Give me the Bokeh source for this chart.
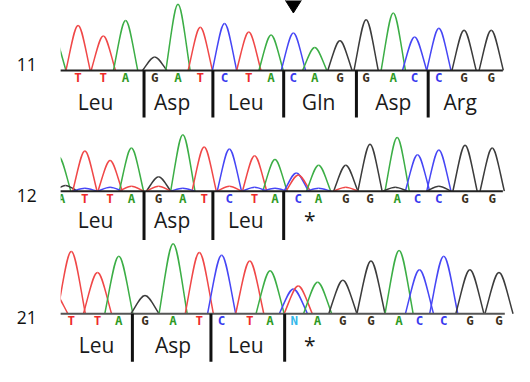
from bokeh.plotting import figure
from bokeh.models import ColumnDataSource, Range1d
from bokeh.core.properties import value
from bokeh.embed import file_html
from bokeh.resources import INLINE

# ---------------- data ----------------
row_names = ["11", "12", "21"]

# row 11: trace peaks (scan position, amplitude, channel)
peak_pos_11 = [55, 80, 106, 129, 159, 183, 206, 231, 256, 279, 302, 324, 350, 377, 405, 427, 452, 478, 506]
peak_amp_11 = [35, 47, 36, 52, 14, 69, 45, 49, 40, 37, 39, 24, 31, 53, 60, 35, 44, 42, 42]
peak_ch_11 = list("ATTAGATCTACAGGACCGG")
call_pos_11 = [80, 106, 129, 159, 183, 206, 231, 256, 279, 302, 324, 350, 377, 405, 427, 452, 478, 506]
call_11 = list("TTAGATCTACAGGACCGG")
codon_bounds_11 = [148, 219, 292, 367, 441]
aa_pos_11 = [98, 177, 253, 328, 405, 474]
aa_11 = ["Leu", "Asp", "Leu", "Gln", "Asp", "Arg"]

# row 12
peak_pos_12 = [60, 67, 87, 113, 135, 163, 188, 210, 236, 262, 283, 305, 307, 328, 356, 381, 409, 430, 452, 479, 507,
               87, 113, 135, 163, 188, 236, 262, 283, 328, 356, 407, 452]
peak_amp_12 = [36, 6, 42, 32, 45, 15, 59, 46, 44, 37, 33, 19, 17, 27, 27, 49, 56, 38, 43, 48, 45,
               3, 4, 5, 5, 3, 5, 4, 3, 3, 4, 4, 5]
peak_ch_12 = list("AGTTAGATCTACTAGGACCGG") + list("CCTTCTCCCTGG")
call_pos_12 = [63, 87, 113, 135, 163, 188, 210, 236, 262, 283, 307, 328, 356, 381, 409, 430, 452, 479, 507]
call_12 = list("ATTAGATCTACAGGACCGG")
codon_bounds_12 = [148, 219, 292]
aa_pos_12 = [98, 177, 253, 319]
aa_12 = ["Leu", "Asp", "Leu", "*"]

# row 21
peak_pos_21 = [55, 73, 100, 122, 149, 178, 205, 228, 257, 278, 302, 307, 327, 353, 382, 411, 432, 457, 484, 514]
peak_amp_21 = [22, 65, 43, 60, 19, 73, 64, 61, 55, 45, 26, 29, 33, 35, 55, 66, 46, 60, 46, 43]
peak_ch_21 = list("TTTAGATCTACTAGGACCGG")
call_pos_21 = [73, 100, 122, 149, 178, 205, 228, 257, 278, 303, 327, 353, 382, 411, 432, 457, 484, 514]
call_21 = list("TTAGATCTANAGGACCGG")
codon_bounds_21 = [136, 217, 293]
aa_pos_21 = [99, 178, 253, 319]
aa_21 = ["Leu", "Asp", "Leu", "*"]

mutation_pos = 302

# ---------------- styling / layout ----------------
trace_colors = {"A": "#3cae46", "C": "#4646f5", "G": "#3c3c3c", "T": "#f04848"}
call_colors = {"A": "#2f9a25", "C": "#3a3aee", "G": "#3b3020", "T": "#ee2a2a", "N": "#35b8ea"}

rows = [
    dict(pp=peak_pos_11, pa=peak_amp_11, pc=peak_ch_11, cp=call_pos_11, cb=call_11,
         cod=codon_bounds_11, ap=aa_pos_11, aa=aa_11, base=309, hw=12.5, end=518,
         aa_y=276, lab_y=315.5, div=49, bl_color="#222222"),
    dict(pp=peak_pos_12, pa=peak_amp_12, pc=peak_ch_12, cp=call_pos_12, cb=call_12,
         cod=codon_bounds_12, ap=aa_pos_12, aa=aa_12, base=183, hw=12.5, end=518,
         aa_y=153, lab_y=178, div=51, bl_color="#222222"),
    dict(pp=peak_pos_21, pa=peak_amp_21, pc=peak_ch_21, cp=call_pos_21, cb=call_21,
         cod=codon_bounds_21, ap=aa_pos_21, aa=aa_21, base=55, hw=14.5, end=520,
         aa_y=22, lab_y=51, div=50, bl_color="#555555"),
]
trace_start = 62

p = figure(width=514, height=366, x_range=Range1d(0, 530), y_range=Range1d(0, 382),
           output_backend="svg", toolbar_location=None, min_border=0,
           x_axis_type=None, y_axis_type=None)
p.grid.visible = False
p.outline_line_color = None
p.background_fill_color = "white"

for r in rows:
    b, w = r["base"], r["hw"]
    halves = dict(x0=[], y0=[], x1=[], y1=[], cx0=[], cy0=[], cx1=[], cy1=[], color=[])
    for c, h, ch in zip(r["pp"], r["pa"], r["pc"]):
        for s in (-1, 1):
            halves["x0"].append(c + s * w)
            halves["y0"].append(b)
            halves["cx0"].append(c + s * 0.5 * w)
            halves["cy0"].append(b + 0.62 * h)
            halves["cx1"].append(c + s * 0.28 * w)
            halves["cy1"].append(b + h)
            halves["x1"].append(c)
            halves["y1"].append(b + h)
            halves["color"].append(trace_colors[ch])
    p.bezier(x0="x0", y0="y0", x1="x1", y1="y1", cx0="cx0", cy0="cy0", cx1="cx1", cy1="cy1",
             line_color="color", line_width=1.5, source=ColumnDataSource(halves))

    calls = ColumnDataSource(dict(x=r["cp"], y=[b - 7.5] * len(r["cp"]), t=r["cb"],
                                  color=[call_colors[c] for c in r["cb"]]))
    p.text(x="x", y="y", text="t", text_color="color", source=calls, text_align="center",
           text_baseline="middle", text_font=value("DejaVu Sans Mono"), text_font_style="bold",
           text_font_size="12.5px")

    # white mask left of trace start
    p.quad(left=[0], right=[trace_start], bottom=[b - 14], top=[b + 90],
           fill_color="white", line_color=None)

    p.segment(x0=[trace_start], y0=[b], x1=[r["end"]], y1=[b], line_color=r["bl_color"], line_width=2)
    p.segment(x0=r["cod"], y0=[b] * len(r["cod"]), x1=r["cod"], y1=[b - r["div"]] * len(r["cod"]),
              line_color="#111111", line_width=3)

    p.text(x=r["ap"], y=[r["aa_y"]] * len(r["ap"]), text=r["aa"], text_align="center",
           text_baseline="middle", text_font=value("Open Sans"), text_font_size="21px",
           text_color="#1a1a1a")

for r, name in zip(rows, row_names):
    p.text(x=[27], y=[r["lab_y"]], text=[name], text_align="center", text_baseline="middle",
           text_font=value("Open Sans"), text_font_size="17.5px", text_color="#111111")

# mutation arrow
p.patch(x=[mutation_pos - 10, mutation_pos + 10, mutation_pos], y=[385, 385, 369],
        fill_color="black", line_color="black")

open("out.html", "w").write(file_html(p, INLINE))
